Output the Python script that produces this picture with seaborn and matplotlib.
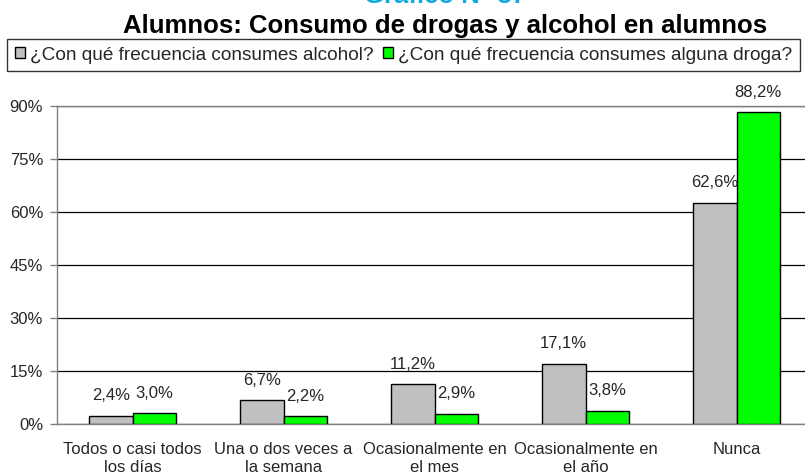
import matplotlib
matplotlib.use("Agg")
import matplotlib.pyplot as plt
import seaborn as sns
import pandas as pd
from matplotlib.ticker import FixedLocator

categories = ["Todos o casi todos\nlos días", "Una o dos veces a\nla semana",
              "Ocasionalmente en\nel mes", "Ocasionalmente en\nel año", "Nunca"]
series_names = ["¿Con qué frecuencia consumes alcohol?",
                "¿Con qué frecuencia consumes alguna droga?"]
alcohol = [2.4, 6.7, 11.2, 17.1, 62.6]
droga = [3.0, 2.2, 2.9, 3.8, 88.2]
yticks = [0, 15, 30, 45, 60, 75, 90]
colors = ["#C0C0C0", "#00FF00"]

df = pd.DataFrame({
    "cat": categories * 2,
    "serie": [series_names[0]] * len(categories) + [series_names[1]] * len(categories),
    "valor": alcohol + droga,
})

sns.set_style("white")
plt.rcParams["font.family"] = ["Liberation Sans", "DejaVu Sans"]

W, H = 805, 475
fig = plt.figure(figsize=(W / 100, H / 100), dpi=100)
ax = fig.add_axes([57 / W, 1 - 424 / H, 755 / W, 318 / H])

sns.barplot(data=df, x="cat", y="valor", hue="serie", order=categories,
            hue_order=series_names, palette=dict(zip(series_names, colors)),
            width=0.577, gap=0, edgecolor="black", linewidth=1.0,
            saturation=1, errorbar=None, ax=ax, zorder=3)

ax.set_xlim(-0.5, len(categories) - 0.5)
ax.set_ylim(0, 90)
ax.set_yticks(yticks)
ax.set_yticklabels([f"{v}%" for v in yticks], fontsize=12)
ax.set_xlabel("")
ax.set_ylabel("")
ax.set_xticks(range(len(categories)))
ax.set_xticklabels(categories, fontsize=12, linespacing=1.25)
ax.xaxis.set_minor_locator(FixedLocator([i - 0.5 for i in range(len(categories) + 1)]))
ax.tick_params(axis="x", which="major", length=0, pad=13)
ax.tick_params(axis="x", which="minor", length=5, width=1, color="black", direction="out")
ax.tick_params(axis="y", which="major", length=5, width=1, color="#808080",
               direction="out", pad=5, left=True)

ax.yaxis.grid(True, color="black", linewidth=0.9, zorder=0)
ax.set_axisbelow(True)
for s in ["left", "bottom", "top"]:
    ax.spines[s].set_visible(True)
    ax.spines[s].set_color("#808080")
    ax.spines[s].set_linewidth(1)
ax.spines["right"].set_visible(False)

for cont, vals in zip(ax.containers, [alcohol, droga]):
    for patch, v in zip(cont.patches, vals):
        ax.annotate(f"{v:.1f}%".replace(".", ","),
                    (patch.get_x() + patch.get_width() / 2, patch.get_height()),
                    xytext=(0, 14.5), textcoords="offset points",
                    ha="center", va="center", fontsize=12)

handles, labels = ax.get_legend_handles_labels()
ax.get_legend().remove()
leg = fig.legend(handles, labels, loc="upper left", ncol=2,
                 bbox_to_anchor=(7 / W, 1 - 39 / H), bbox_transform=fig.transFigure,
                 fontsize=13.7, frameon=True, fancybox=False, edgecolor="black",
                 handlelength=0.53, handleheight=0.5, handletextpad=0.3,
                 columnspacing=0.45, borderpad=0.4, borderaxespad=0)
leg.get_frame().set_linewidth(1)
for h in leg.legend_handles:
    h.set_edgecolor("black")
    h.set_linewidth(1)

fig.text(445 / W, 1 - 3 / H, "Gráfico N° 37", ha="center", va="baseline",
         fontsize=18.5, fontweight="bold", color="#12A8E0")
fig.text(445 / W, 1 - 33 / H, "Alumnos: Consumo de drogas y alcohol en alumnos",
         ha="center", va="baseline", fontsize=18.5, fontweight="bold", color="black")

fig.savefig("out.png", dpi=100)
